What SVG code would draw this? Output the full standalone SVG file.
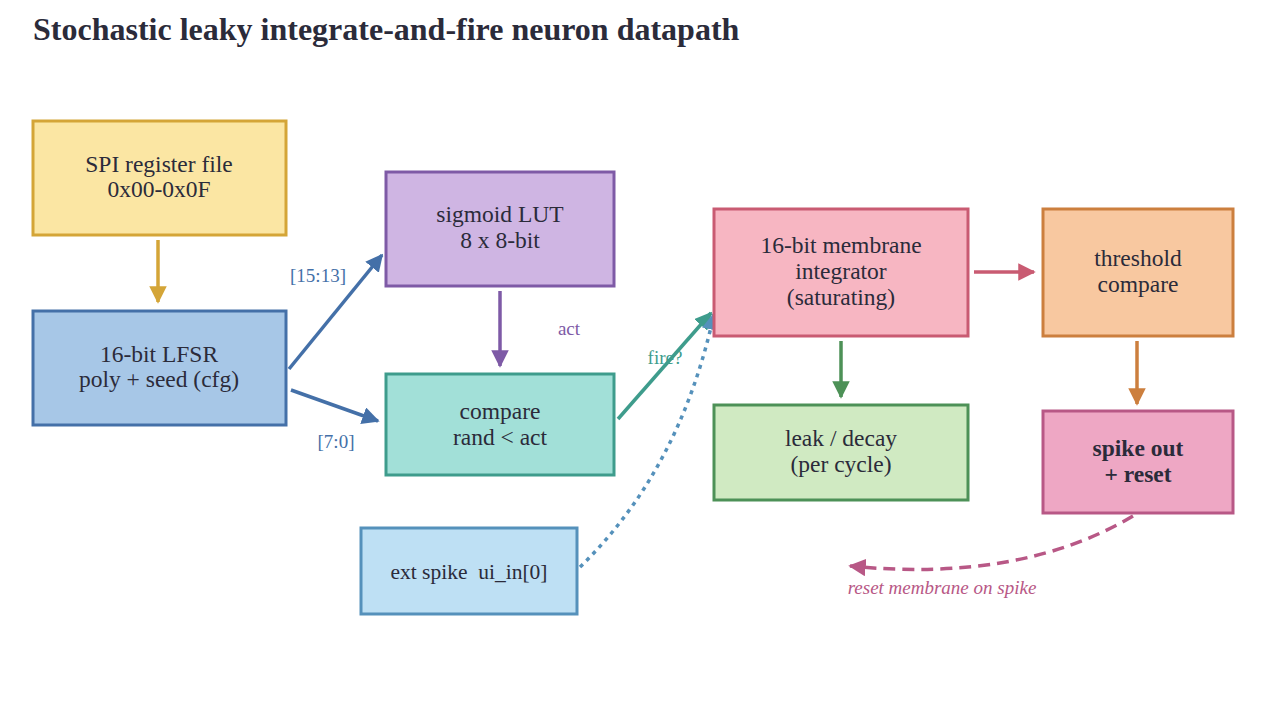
<svg xmlns="http://www.w3.org/2000/svg" width="1279" height="709" viewBox="0 0 1279 709">
<style>
text{font-family:"Liberation Serif","Times New Roman",serif;fill:#2b2b3a}
.t{font-size:23.5px;text-anchor:middle}
.l{font-size:19px;text-anchor:middle}
.b{stroke-width:3}
.c{fill:none;stroke-width:3.5}
</style>
<defs>
<marker id="mY" viewBox="0 0 10 10" refX="9" refY="5" markerWidth="5" markerHeight="5" orient="auto" markerUnits="strokeWidth"><path d="M0,0L10,5L0,10z" fill="#d4a537"/></marker>
<marker id="mB" viewBox="0 0 10 10" refX="9" refY="5" markerWidth="5" markerHeight="5" orient="auto" markerUnits="strokeWidth"><path d="M0,0L10,5L0,10z" fill="#4470a8"/></marker>
<marker id="mP" viewBox="0 0 10 10" refX="9" refY="5" markerWidth="5" markerHeight="5" orient="auto" markerUnits="strokeWidth"><path d="M0,0L10,5L0,10z" fill="#7e5aa6"/></marker>
<marker id="mT" viewBox="0 0 10 10" refX="9" refY="5" markerWidth="5" markerHeight="5" orient="auto" markerUnits="strokeWidth"><path d="M0,0L10,5L0,10z" fill="#3e9c8c"/></marker>
<marker id="mL" viewBox="0 0 10 10" refX="9" refY="5" markerWidth="5" markerHeight="5" orient="auto" markerUnits="strokeWidth"><path d="M0,0L10,5L0,10z" fill="#5591bb"/></marker>
<marker id="mR" viewBox="0 0 10 10" refX="9" refY="5" markerWidth="5" markerHeight="5" orient="auto" markerUnits="strokeWidth"><path d="M0,0L10,5L0,10z" fill="#c95b72"/></marker>
<marker id="mG" viewBox="0 0 10 10" refX="9" refY="5" markerWidth="5" markerHeight="5" orient="auto" markerUnits="strokeWidth"><path d="M0,0L10,5L0,10z" fill="#4d9157"/></marker>
<marker id="mO" viewBox="0 0 10 10" refX="9" refY="5" markerWidth="5" markerHeight="5" orient="auto" markerUnits="strokeWidth"><path d="M0,0L10,5L0,10z" fill="#cc7f3e"/></marker>
<marker id="mM" viewBox="0 0 10 10" refX="9" refY="5" markerWidth="5" markerHeight="5" orient="auto" markerUnits="strokeWidth"><path d="M0,0L10,5L0,10z" fill="#b85886"/></marker>
</defs>
<rect width="1279" height="709" fill="#ffffff"/>
<text x="33" y="40" style="font-size:32px;font-weight:bold">Stochastic leaky integrate-and-fire neuron datapath</text>

<g id="connectors">
<line class="c" x1="158" y1="240" x2="158" y2="302" stroke="#d4a537" marker-end="url(#mY)"/>
<line class="c" x1="289" y1="369" x2="382" y2="255" stroke="#4470a8" marker-end="url(#mB)"/>
<line class="c" x1="291" y1="390" x2="378" y2="421" stroke="#4470a8" marker-end="url(#mB)"/>
<line class="c" x1="500" y1="291" x2="500" y2="366" stroke="#7e5aa6" marker-end="url(#mP)"/>
<line class="c" x1="618" y1="419" x2="711" y2="313" stroke="#3e9c8c" marker-end="url(#mT)"/>
<path class="c" d="M580,567 Q680,470 714,314" stroke="#5591bb" stroke-width="3" stroke-dasharray="4,5" marker-end="url(#mL)"/>
<line class="c" x1="974" y1="272" x2="1034" y2="272" stroke="#c95b72" marker-end="url(#mR)"/>
<line class="c" x1="841" y1="341" x2="841" y2="397" stroke="#4d9157" marker-end="url(#mG)"/>
<line class="c" x1="1137" y1="341" x2="1137" y2="404" stroke="#cc7f3e" marker-end="url(#mO)"/>
<path class="c" d="M1133,516 Q1020,583 850,566" stroke="#b85886" stroke-width="3" stroke-dasharray="12,7" marker-end="url(#mM)"/>
<text class="l" x="318" y="282" style="fill:#4470a8">[15:13]</text>
<text class="l" x="336" y="448" style="fill:#4470a8">[7:0]</text>
<text class="l" x="569" y="335" style="fill:#7e5aa6">act</text>
<text class="l" x="665" y="364" style="fill:#3e9c8c">fire?</text>
<text class="l" x="942" y="594" style="fill:#b85886;font-style:italic">reset membrane on spike</text>
</g>

<g id="spi"><rect class="b" x="33" y="121" width="253" height="114" fill="#fbe6a3" stroke="#d4a537"/>
<text class="t" x="159" y="172">SPI register file</text><text class="t" x="159" y="197">0x00-0x0F</text></g>
<g id="lfsr"><rect class="b" x="33" y="311" width="253" height="114" fill="#a7c7e7" stroke="#4470a8"/>
<text class="t" x="159" y="362">16-bit LFSR</text><text class="t" x="159" y="387">poly + seed (cfg)</text></g>
<g id="sigmoid"><rect class="b" x="386" y="172" width="228" height="114" fill="#cfb5e3" stroke="#7e5aa6"/>
<text class="t" x="500" y="222">sigmoid LUT</text><text class="t" x="500" y="248">8 x 8-bit</text></g>
<g id="compare"><rect class="b" x="386" y="374" width="228" height="101" fill="#a2e0d8" stroke="#3e9c8c"/>
<text class="t" x="500" y="419">compare</text><text class="t" x="500" y="445">rand &lt; act</text></g>
<g id="ext"><rect class="b" x="361" y="528" width="216" height="86" fill="#bee0f4" stroke="#5591bb"/>
<text class="t" x="469" y="579" style="font-size:21.5px;white-space:pre" xml:space="preserve">ext spike  ui_in[0]</text></g>
<g id="membrane"><rect class="b" x="714" y="209" width="254" height="127" fill="#f7b6c2" stroke="#c95b72"/>
<text class="t" x="841" y="253">16-bit membrane</text><text class="t" x="841" y="279">integrator</text><text class="t" x="841" y="305">(saturating)</text></g>
<g id="leak"><rect class="b" x="714" y="405" width="254" height="95" fill="#d0eac2" stroke="#4d9157"/>
<text class="t" x="841" y="446">leak / decay</text><text class="t" x="841" y="472">(per cycle)</text></g>
<g id="threshold"><rect class="b" x="1043" y="209" width="190" height="127" fill="#f8c8a0" stroke="#cc7f3e"/>
<text class="t" x="1138" y="266">threshold</text><text class="t" x="1138" y="292">compare</text></g>
<g id="spike"><rect class="b" x="1043" y="411" width="190" height="102" fill="#eea7c4" stroke="#b85886"/>
<text class="t" x="1138" y="456" style="font-weight:bold">spike out</text><text class="t" x="1138" y="482" style="font-weight:bold">+ reset</text></g>
</svg>
